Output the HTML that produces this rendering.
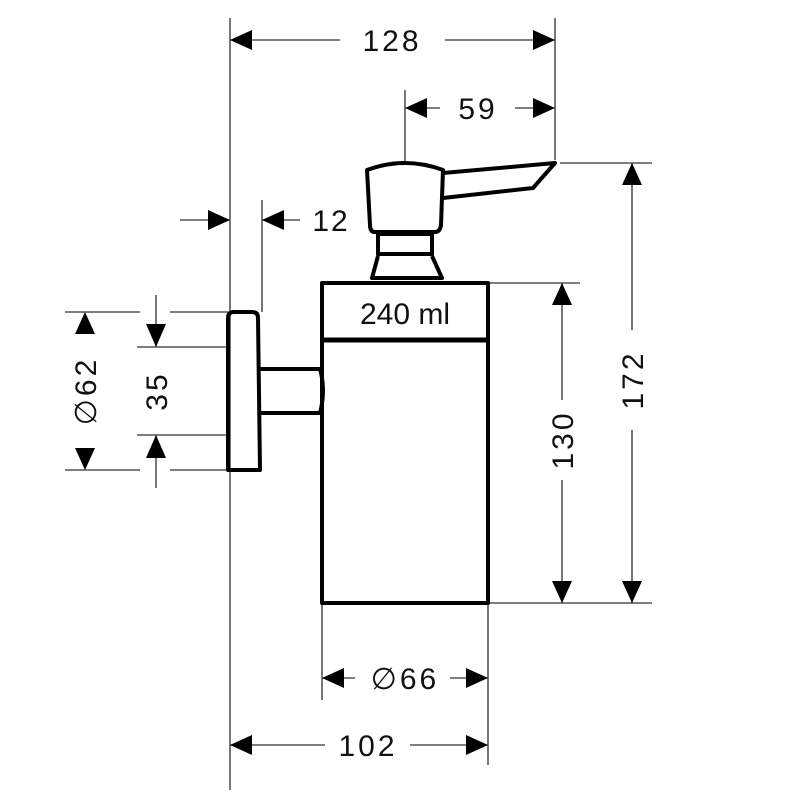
<!DOCTYPE html>
<html><head><style>body{margin:0;background:#fff}svg{display:block}</style></head><body>
<svg width="800" height="800" viewBox="0 0 800 800" xmlns="http://www.w3.org/2000/svg" font-family="Liberation Sans, DejaVu Sans, sans-serif">
<g stroke="#555" stroke-width="1.6" fill="none">
<line x1="230" y1="18" x2="230" y2="790"/>
<line x1="555" y1="18" x2="555" y2="160"/>
<line x1="405" y1="90" x2="405" y2="162"/>
<line x1="262" y1="200" x2="262" y2="312"/>
<line x1="180" y1="220" x2="230" y2="220"/>
<line x1="262" y1="220" x2="300" y2="220"/>
<line x1="230" y1="40" x2="340" y2="40"/><line x1="445" y1="40" x2="555" y2="40"/>
<line x1="405" y1="108" x2="440" y2="108"/><line x1="515" y1="108" x2="555" y2="108"/>
<line x1="65" y1="312" x2="140" y2="312"/><line x1="170" y1="312" x2="228" y2="312"/>
<line x1="65" y1="470" x2="140" y2="470"/><line x1="170" y1="470" x2="228" y2="470"/>
<line x1="137" y1="347" x2="228" y2="347"/><line x1="137" y1="435" x2="228" y2="435"/>
<line x1="156" y1="295" x2="156" y2="347"/><line x1="156" y1="435" x2="156" y2="488"/>
<line x1="488" y1="283" x2="580" y2="283"/>
<line x1="488" y1="603" x2="652" y2="603"/>
<line x1="560" y1="163" x2="652" y2="163"/>
<line x1="562" y1="283" x2="562" y2="400"/><line x1="562" y1="480" x2="562" y2="603"/>
<line x1="632" y1="163" x2="632" y2="330"/><line x1="632" y1="430" x2="632" y2="603"/>
<line x1="322" y1="603" x2="322" y2="700"/>
<line x1="488" y1="603" x2="488" y2="765"/>
<line x1="322" y1="678" x2="355" y2="678"/><line x1="450" y1="678" x2="488" y2="678"/>
<line x1="230" y1="745" x2="325" y2="745"/><line x1="410" y1="745" x2="488" y2="745"/>
</g>
<g fill="#000">
<polygon points="230,40 252,30 252,50"/><polygon points="555,40 533,30 533,50"/>
<polygon points="405,108 427,98 427,118"/><polygon points="555,108 533,98 533,118"/>
<polygon points="230,220 208,210 208,230"/><polygon points="262,220 284,210 284,230"/>
<polygon points="85,312 75,334 95,334"/><polygon points="85,470 75,448 95,448"/>
<polygon points="156,347 146,324 166,324"/><polygon points="156,435 146,458 166,458"/>
<polygon points="562,283 552,305 572,305"/><polygon points="562,603 552,581 572,581"/>
<polygon points="632,163 622,185 642,185"/><polygon points="632,603 622,581 642,581"/>
<polygon points="322,678 344,668 344,688"/><polygon points="488,678 466,668 466,688"/>
<polygon points="230,745 252,735 252,755"/><polygon points="488,745 466,735 466,755"/>
</g>
<g stroke="#000" stroke-width="4" fill="none" stroke-linejoin="round">
<path d="M367,170 Q405,156 443,170 L441,225 Q440,232 435,232 L375,232 Q370,232 370,225 Z"/>
<path d="M443,173 L555,163 L533,188 L443,198"/>
<rect x="378" y="234" width="54" height="20"/>
<path d="M378,256 L372,278 L442,278 L432,256"/>
<rect x="322" y="283" width="166" height="320"/>
<line x1="322" y1="340" x2="488" y2="340" stroke-width="5"/>
<path d="M228,470 L228,318 Q228,312 234,312 L252,312 Q258,312 258,318 L260,470 Z"/>
<path d="M260,369 L320,369 Q326,390 320,413 L260,413"/>
</g>
<g font-size="30" fill="#111" text-anchor="middle">
<text x="392" y="51" letter-spacing="3">128</text>
<text x="478" y="119" letter-spacing="3">59</text>
<text x="331" y="231" letter-spacing="2">12</text>
<text x="405" y="324" font-size="30">240 ml</text>
<text x="405" y="689" letter-spacing="3">∅66</text>
<text x="368" y="756" letter-spacing="3">102</text>
<text transform="translate(96,391) rotate(-90)" letter-spacing="3">∅62</text>
<text transform="translate(167,391) rotate(-90)" letter-spacing="3">35</text>
<text transform="translate(573,440) rotate(-90)" letter-spacing="3">130</text>
<text transform="translate(643,380) rotate(-90)" letter-spacing="3">172</text>
</g>
</svg>
</body></html>
